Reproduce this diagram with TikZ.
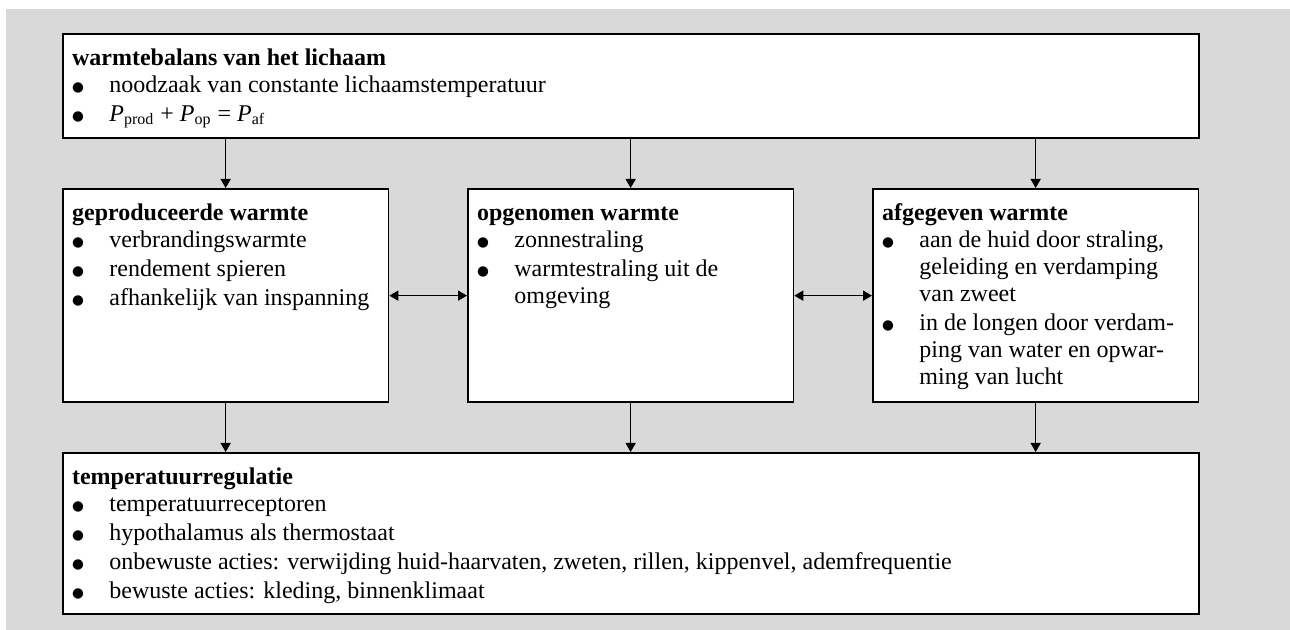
\documentclass[tikz,border=0pt]{standalone}
\usepackage{fontspec}
\setmainfont{Liberation Serif}
\newfontfamily\dotfont{DejaVu Sans}
\usetikzlibrary{arrows.meta}
\definecolor{panel}{RGB}{217,217,217}
% bullet and continuation indent for the hand-set lists
\newcommand\bitem{\makebox[18.65pt][l]{\raisebox{0.6pt}{\fontsize{6.8pt}{8pt}\dotfont ●}}}
\newcommand\bcont{\hspace*{18.65pt}}
\begin{document}
\begin{tikzpicture}[x=0.5pt,y=-0.5pt,
  box/.style={draw, line width=0.9pt, fill=white, rectangle, inner sep=0pt, anchor=north west},
  txt/.style={anchor=north west, inner sep=0pt, align=left, xshift=4.85pt, yshift=-6.55pt,
    font={\fontsize{12pt}{13.5pt}\selectfont}},
  arr/.style={line width=0.7pt, -{Triangle[length=4.5pt,width=5pt]}},
  darr/.style={line width=0.7pt, {Triangle[length=4.5pt,width=5pt]}-{Triangle[length=4.5pt,width=5pt]}}]
\useasboundingbox (0,0) rectangle (1290,630);
\fill[panel] (6,9) rectangle (1290,630);

% boxes
\node[box, minimum width=568pt, minimum height=52pt] (bal) at (62,33) {};
\node[box, minimum width=162.75pt, minimum height=106.75pt] (gep) at (62,188) {};
\node[box, minimum width=162.75pt, minimum height=106.75pt] (opg) at (467,188) {};
\node[box, minimum width=162.75pt, minimum height=106.75pt] (afg) at (872,188) {};
\node[box, minimum width=568pt, minimum height=80.5pt] (reg) at (62,452) {};

% box texts
\node[txt] (balt) at (bal.north west) {\strut\textbf{warmtebalans van het lichaam}\\
\bitem noodzaak van constante lichaamstemperatuur\\[1pt]
\bitem \textit{P}\textsubscript{prod} + \textit{P}\textsubscript{op} = \textit{P}\textsubscript{af}};

\node[txt] (gept) at (gep.north west) {\strut\textbf{geproduceerde warmte}\\
\bitem verbrandingswarmte\\[1pt]
\bitem rendement spieren\\[1pt]
\bitem afhankelijk van inspanning};

\node[txt] (opgt) at (opg.north west) {\strut\textbf{opgenomen warmte}\\
\bitem zonnestraling\\[1pt]
\bitem warmtestraling uit de\\
\bcont omgeving};

\node[txt] (afgt) at (afg.north west) {\strut\textbf{afgegeven warmte}\\
\bitem aan de huid door straling,\\
\bcont geleiding en verdamping\\
\bcont van zweet\\[1pt]
\bitem in de longen door verdam-\\
\bcont ping van water en opwar-\\
\bcont ming van lucht};

\node[txt] (regt) at (reg.north west) {\strut\textbf{temperatuurregulatie}\\
\bitem temperatuurreceptoren\\[1pt]
\bitem hypothalamus als thermostaat\\[1pt]
\bitem onbewuste acties: verwijding huid-haarvaten, zweten, rillen, kippenvel, ademfrequentie\\[1pt]
\bitem bewuste acties: kleding, binnenklimaat};

% connectors
\draw[arr] (gep.north |- bal.south) -- (gep.north);
\draw[arr] (opg.north |- bal.south) -- (opg.north);
\draw[arr] (afg.north |- bal.south) -- (afg.north);
\draw[darr] (gep.east) -- (opg.west);
\draw[darr] (opg.east) -- (afg.west);
\draw[arr] (gep.south) -- (gep.south |- reg.north);
\draw[arr] (opg.south) -- (opg.south |- reg.north);
\draw[arr] (afg.south) -- (afg.south |- reg.north);
\end{tikzpicture}
\end{document}
